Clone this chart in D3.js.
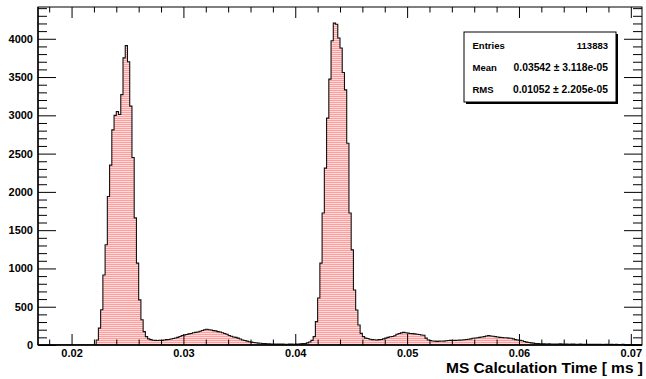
<!DOCTYPE html>
<html><head><meta charset="utf-8">
<script src="https://cdn.jsdelivr.net/npm/d3@7"></script>
<style>
html,body{margin:0;padding:0;background:#fff;}
svg{display:block;}
text{font-family:"Liberation Sans",Arial,Helvetica,sans-serif;font-weight:bold;fill:#000;}
</style></head>
<body>
<svg id="c" width="646" height="379"></svg>
<script>
// ---- data ----
const xMin = 0.017, xMax = 0.071;
const binStart = 0.017, binWidth = 0.0002;
const counts = [
0,0,0,0,0,0,0,0,0,0,
0,0,0,0,0,0,0,0,0,0,
0,0,0,0,0,0,65,220,460,915,
1310,1940,2350,2810,3000,3050,3010,3270,3750,3910,
3700,3120,2450,1660,1070,590,330,175,110,80,
70,62,60,58,62,60,66,70,72,78,
85,92,100,112,125,130,138,145,150,160,
165,170,180,190,200,205,200,195,188,185,
175,170,160,150,140,125,115,105,100,90,
78,65,58,50,42,38,32,30,25,22,
20,18,16,15,14,13,12,12,11,12,
10,10,11,12,10,12,14,15,18,20,
28,40,60,110,305,613,1070,1725,2310,2963,
3473,3974,4205,4190,4010,3880,3560,3333,2636,1725,
1242,719,457,261,152,109,90,85,75,70,
68,66,70,72,80,90,100,108,112,120,
140,150,158,165,160,155,150,148,145,140,
138,130,128,90,65,58,52,50,48,50,
52,50,55,58,60,62,60,62,64,66,
68,72,75,80,88,92,95,100,105,110,
118,122,118,115,110,105,100,98,95,95,
90,88,80,70,65,60,55,45,38,32,
28,24,20,18,16,15,
15,14,16,13,14,12,13,15,12,11,
12,10,12,11,10,9,11,10,9,10,
8,9,10,8,9,8,7,9,8,7,
8,7,8,6,7,8,6,7,6,7,
6,5,6,5
];
const yMax = 4415;
const xMajorTicks = [0.02, 0.03, 0.04, 0.05, 0.06, 0.07];
const xTickLabels = ["0.02", "0.03", "0.04", "0.05", "0.06", "0.07"];
const xMinorTicks = [0.018,0.022,0.024,0.026,0.028,0.032,0.034,0.036,0.038,0.042,0.044,0.046,0.048,0.052,0.054,0.056,0.058,0.062,0.064,0.066,0.068];
const yMajorTicks = [0, 500, 1000, 1500, 2000, 2500, 3000, 3500, 4000];
const yMinorStep = 100;
const xTitle = "MS Calculation Time [ ms ]";
const statLabels = ["Entries", "Mean", "RMS"];
const statValues = ["113883", "0.03542 \u00b1 3.118e-05", "0.01052 \u00b1 2.205e-05"];

// ---- layout ----
const L = 38, R = 642, T = 7, B = 345;
const svg = d3.select("#c");
const x = d3.scaleLinear().domain([xMin, xMax]).range([L, R]);
const y = d3.scaleLinear().domain([0, yMax]).range([B, T]);

const defs = svg.append("defs");
const pat = defs.append("pattern").attr("id", "hatch").attr("patternUnits", "userSpaceOnUse")
  .attr("width", 4).attr("height", 2);
pat.append("rect").attr("width", 4).attr("height", 2).attr("fill", "#ffdcdc");
pat.append("rect").attr("width", 4).attr("height", 1).attr("fill", "#ff9c9c");
defs.append("clipPath").attr("id", "clip").append("rect")
  .attr("x", L).attr("y", T).attr("width", R - L).attr("height", B - T);

// histogram
const pts = [];
counts.forEach((c, k) => {
  const x0 = binStart + k * binWidth, x1 = binStart + (k + 1) * binWidth;
  pts.push([x0, c]); pts.push([x1, c]);
});
const g = svg.append("g").attr("clip-path", "url(#clip)");
g.append("path").datum(pts)
  .attr("d", d3.area().x(d => x(d[0])).y0(y(0)).y1(d => y(d[1])))
  .attr("fill", "url(#hatch)");
g.append("path").datum(pts)
  .attr("d", d3.line().x(d => x(d[0])).y(d => y(d[1])))
  .attr("fill", "none").attr("stroke", "#111").attr("stroke-width", 1.1);

// axes
function styleAxis(sel) {
  sel.select(".domain").remove();
  sel.selectAll("line").attr("stroke", "#000");
  sel.selectAll("text").attr("font-size", "11px").attr("font-family", null);
}
const yMinorTicks = d3.range(0, yMax, yMinorStep).filter(v => v % 500 !== 0);

svg.append("g").attr("transform", `translate(0,${B})`)
  .call(d3.axisBottom(x).tickValues(xMajorTicks).tickSize(-11).tickPadding(4)
    .tickFormat((d, i) => xTickLabels[i])).call(styleAxis);
svg.append("g").attr("transform", `translate(0,${B})`)
  .call(d3.axisBottom(x).tickValues(xMinorTicks).tickSize(-5.5).tickFormat("")).call(styleAxis);
svg.append("g").attr("transform", `translate(0,${T})`)
  .call(d3.axisTop(x).tickValues(xMajorTicks).tickSize(-11).tickFormat("")).call(styleAxis);
svg.append("g").attr("transform", `translate(0,${T})`)
  .call(d3.axisTop(x).tickValues(xMinorTicks).tickSize(-5.5).tickFormat("")).call(styleAxis);

svg.append("g").attr("transform", `translate(${L},0)`)
  .call(d3.axisLeft(y).tickValues(yMajorTicks).tickSize(-18).tickPadding(5)
    .tickFormat(d3.format("d"))).call(styleAxis);
svg.append("g").attr("transform", `translate(${L},0)`)
  .call(d3.axisLeft(y).tickValues(yMinorTicks).tickSize(-9).tickFormat("")).call(styleAxis);
svg.append("g").attr("transform", `translate(${R},0)`)
  .call(d3.axisRight(y).tickValues(yMajorTicks).tickSize(-18).tickFormat("")).call(styleAxis);
svg.append("g").attr("transform", `translate(${R},0)`)
  .call(d3.axisRight(y).tickValues(yMinorTicks).tickSize(-9).tickFormat("")).call(styleAxis);

// frame
svg.append("rect").attr("x", L).attr("y", T).attr("width", R - L).attr("height", B - T)
  .attr("fill", "none").attr("stroke", "#000").attr("stroke-width", 1);
svg.append("line").attr("x1", L).attr("x2", R).attr("y1", B).attr("y2", B)
  .attr("stroke", "#000").attr("stroke-width", 1.6);
svg.append("line").attr("x1", L).attr("x2", L).attr("y1", T).attr("y2", B)
  .attr("stroke", "#000").attr("stroke-width", 1.4);

// axis title
svg.append("text").attr("x", 643).attr("y", 373).attr("text-anchor", "end")
  .attr("font-size", "15.5px").text(xTitle);

// stats box
const bx = 464, by = 32, bw = 152, bh = 70;
svg.append("rect").attr("x", bx + 2).attr("y", by + 2).attr("width", bw).attr("height", bh).attr("fill", "#000");
svg.append("rect").attr("x", bx).attr("y", by).attr("width", bw).attr("height", bh)
  .attr("fill", "#fff").attr("stroke", "#000").attr("stroke-width", 1);
const rowY = [49, 71, 92.5];
statLabels.forEach((s, i) => {
  svg.append("text").attr("x", 472.5).attr("y", rowY[i]).attr("font-size", "9.5px").text(s);
  svg.append("text").attr("x", 608).attr("y", rowY[i]).attr("text-anchor", "end")
    .attr("font-size", i === 0 ? "9.5px" : "10.3px").text(statValues[i]);
});
</script>
</body></html>
